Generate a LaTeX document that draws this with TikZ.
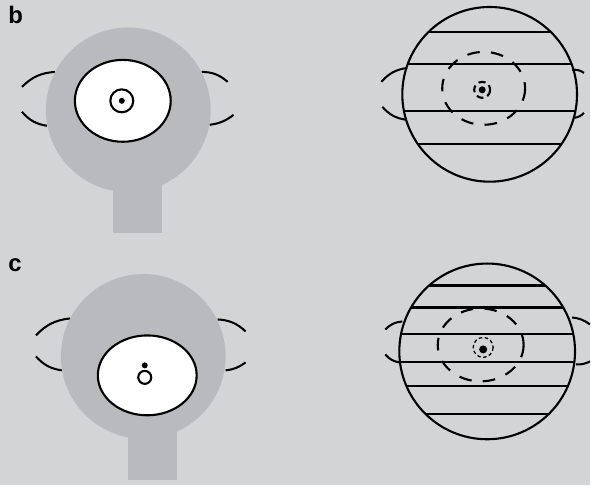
\documentclass[tikz,border=0pt]{standalone}
\usepackage{fontspec}
\setmainfont{Liberation Sans}
\usetikzlibrary{positioning}

\definecolor{paper}{HTML}{D3D4D6}
\definecolor{skin}{HTML}{B9BABD}

\begin{document}
\begin{tikzpicture}[
    x=0.025cm, y=-0.025cm,
    font=\fontsize{17}{20}\selectfont\bfseries
]
\tikzset{
    panel/.style = {anchor=base west, inner sep=0pt},
    lash/.style = {line width=1.45pt},
    head/.style = {fill=skin, draw=none},
    globe/.style = {draw=black, fill=white, line width=1.5pt},
    rim/.style = {draw=black, line width=1.5pt},
    band/.style = {line width=1.5pt},
    halo/.style = {line width=1.5pt, dash pattern=on 9pt off 8pt},
    spotb/.style = {line width=1.5pt, dash pattern=on 5pt off 3pt},
    spotc/.style = {line width=0.9pt, dash pattern=on 2.5pt off 1.8pt}
}
\fill[paper] (0,0) rectangle (591,486);

\node[panel] (labelb) at (8,24) {b};
\node[panel] (labelc) at (8,272) {c};

% b, front view
\draw[lash] (22,87) to[bend left=20] (55,72);
\draw[lash] (22,112) to[bend right=20] (47,126);
\draw[lash] (202,72) to[bend left=20] (228,82);
\draw[lash] (210,125) to[bend right=15] (234,115);
\fill[head] (113,150) rectangle (162,233);
\fill[head] (128.5,110) circle[radius=82.5];
\draw[globe] (123,101) ellipse[x radius=48, y radius=41];
\draw[rim] (122,101) circle[radius=11.5];
\fill (122,101) circle[radius=3];

% b, section lines
\draw[lash] (382,82) to[bend left=20] (408,68);
\draw[lash] (383,107) to[bend right=20] (407,120);
\draw[lash] (573,70) to[bend left=20] (585,73);
\draw[lash] (575,118) to[bend right=20] (585,113);
\begin{scope}
\clip (490.5,94.5) circle[radius=87.5];
\foreach \y in {32,64,111,144}
    \draw[band] (400,\y) -- (580,\y);
\end{scope}
\draw[rim] (490.5,94.5) circle[radius=87.5];
\draw[halo] (484.5,88.5) ellipse[x radius=41.5, y radius=36.5];
\draw[spotb] (483,90) circle[radius=8];
\fill (483,90) circle[radius=3.5];

% c, front view
\draw[lash] (36,336) to[bend left=20] (70,319);
\draw[lash] (36,357) to[bend right=20] (62,371);
\draw[lash] (218,320) to[bend left=20] (246,332);
\draw[lash] (226,371) to[bend right=15] (246,363);
\fill[head] (128,420) rectangle (177,481);
\fill[head] (143.5,357) circle[radius=82.5];
\draw[globe] (147.5,376) ellipse[x radius=49.5, y radius=40];
\draw[rim, fill=white] (145,378) circle[radius=6.5];
\fill (145,366) circle[radius=3];

% c, section lines
\draw[lash] (386,330) to[bend left=20] (403,322);
\draw[lash] (386,355) to[bend right=20] (400,363);
\draw[lash] (573,318) to[bend left=15] (591,325);
\draw[lash] (577,365) to[bend right=15] (591,362);
\begin{scope}
\clip (488,352) circle[radius=88];
\foreach \y in {286,308,335,363,387,415}
    \draw[band] (395,\y) -- (580,\y);
\end{scope}
\draw[rim] (488,352) circle[radius=88];
\draw[halo] (481.5,345.5) ellipse[x radius=43, y radius=36.5];
\draw[spotc] (484,348) circle[radius=10];
\fill (484,350) circle[radius=4];
\end{tikzpicture}
\end{document}
